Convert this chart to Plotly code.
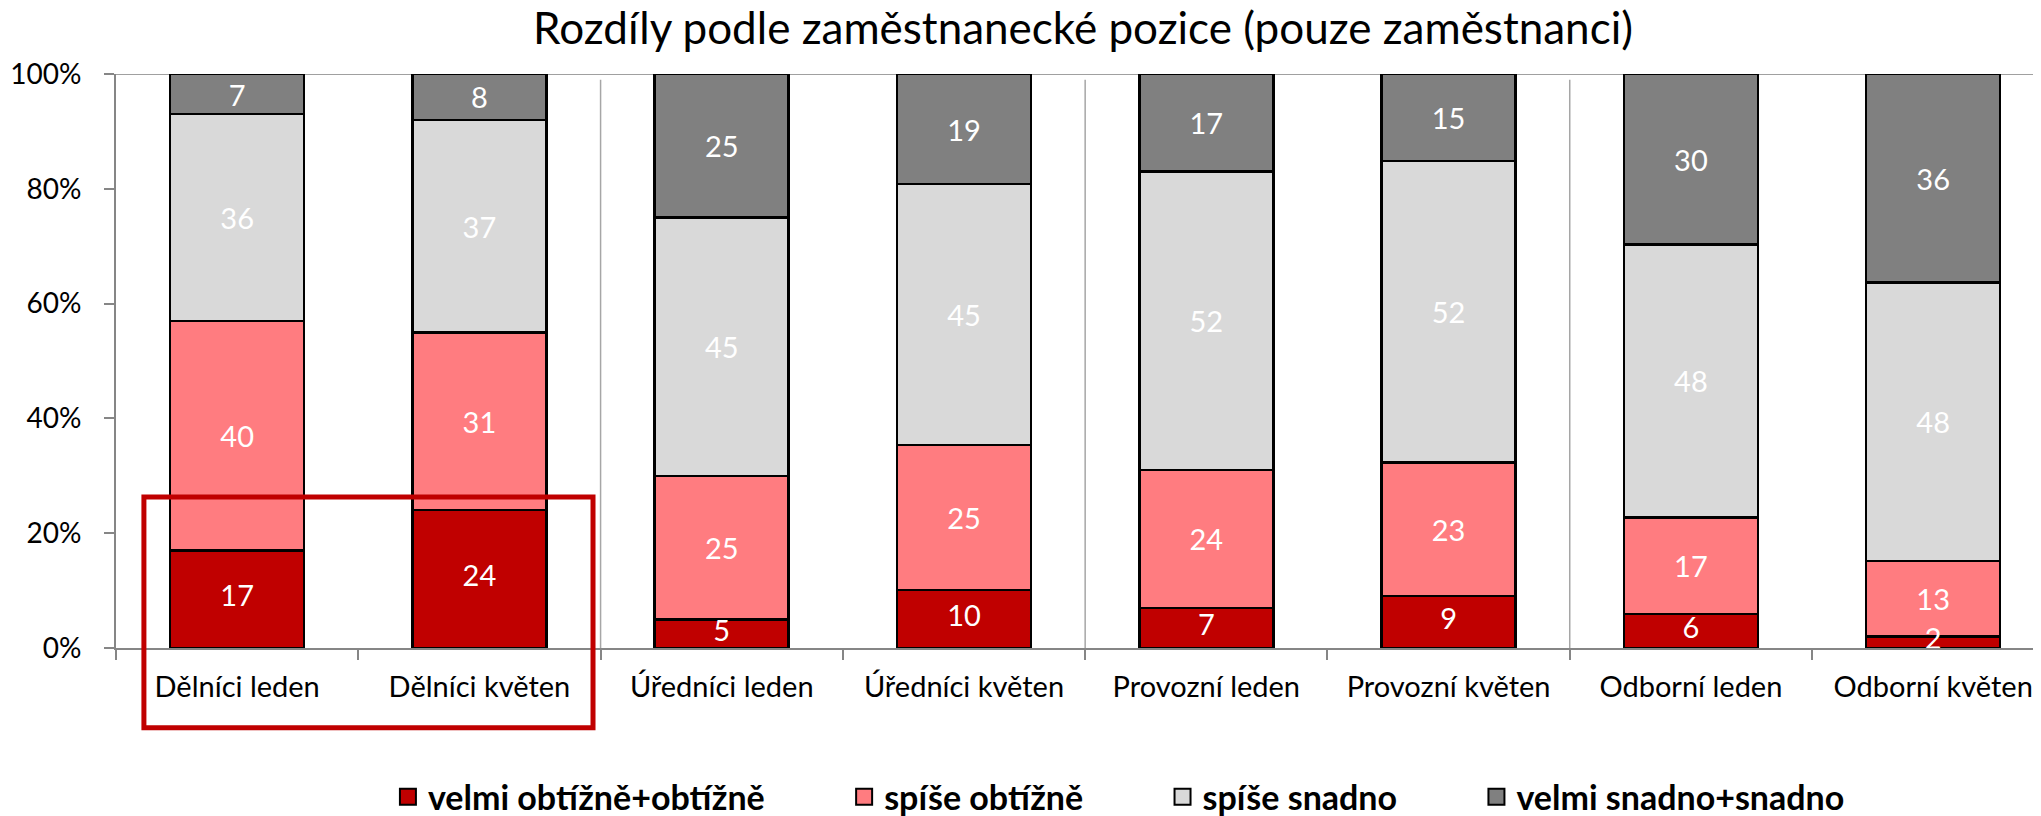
import plotly.graph_objects as go

categories = ["Dělníci leden", "Dělníci květen", "Úředníci leden", "Úředníci květen",
              "Provozní leden", "Provozní květen", "Odborní leden", "Odborní květen"]

velmi_obtizne = [17, 24, 5, 10, 7, 9, 6, 2]
spise_obtizne = [40, 31, 25, 25, 24, 23, 17, 13]
spise_snadno = [36, 37, 45, 45, 52, 52, 48, 48]
velmi_snadno = [7, 8, 25, 19, 17, 15, 30, 36]

y_ticks = [0, 20, 40, 60, 80, 100]
y_labels = ["0%", "20%", "40%", "60%", "80%", "100%"]

series = [
    ("velmi obtížně+obtížně", velmi_obtizne, "#C00000"),
    ("spíše obtížně", spise_obtizne, "#FF7C80"),
    ("spíše snadno", spise_snadno, "#D9D9D9"),
    ("velmi snadno+snadno", velmi_snadno, "#808080"),
]

FONT = "Lato"
NBSP = "\u00a0"

# the page body has an 8px margin, so the figure is drawn 8px smaller
W, H = 2033, 808

fig = go.Figure()

for i, (name, vals, color) in enumerate(series):
    # bottom series gets its labels from a text trace on top (see below)
    labels = vals if i > 0 else [""] * len(vals)
    fig.add_trace(go.Bar(
        x=categories, y=vals, name=name,
        marker=dict(color=color, line=dict(color="black", width=2.5)),
        text=labels, texttemplate="%{text}",
        textposition="inside", insidetextanchor="middle",
        constraintext="none", textangle=0, cliponaxis=False,
        textfont=dict(color="white", size=29, family=FONT),
        showlegend=False,
    ))

# labels of the bottom series drawn on top (so tiny segments still show them)
totals = [sum(s[1][k] for s in series) for k in range(len(categories))]
mid = [velmi_obtizne[k] / 2 / totals[k] * 100 for k in range(len(categories))]
fig.add_trace(go.Scatter(
    x=categories, y=mid, mode="text", text=velmi_obtizne,
    textfont=dict(color="white", size=29, family=FONT),
    showlegend=False, cliponaxis=False, hoverinfo="skip",
))

# legend entries (bigger square symbols than the bar default)
for i, (name, vals, color) in enumerate(series):
    pad = NBSP * 9 if i < len(series) - 1 else ""
    fig.add_trace(go.Scatter(
        x=[None], y=[None], mode="markers", name=name + pad,
        marker=dict(symbol="square", size=16, color=color,
                    line=dict(color="black", width=2)),
    ))

shapes = []
# thin separators between groups
for xb in [1.5, 3.5, 5.5]:
    shapes.append(dict(type="line", xref="x", yref="y", x0=xb, x1=xb, y0=0, y1=99,
                       line=dict(color="#A6A6A6", width=1.5), layer="below"))
# top border line at 100 %
shapes.append(dict(type="line", xref="paper", yref="y", x0=0, x1=1, y0=100, y1=100,
                   line=dict(color="#A0A0A0", width=2), layer="below"))
# red highlight box around the first group
shapes.append(dict(type="rect", xref="paper", yref="paper",
                   x0=0.0145, x1=0.2478, y0=-0.139, y1=0.263,
                   line=dict(color="#C00000", width=5)))

fig.update_layout(
    width=W, height=H,
    barmode="stack", barnorm="percent", bargap=0.447,
    plot_bgcolor="white", paper_bgcolor="white",
    margin=dict(l=108, r=0, t=66, b=168, autoexpand=False),
    font=dict(family=FONT, color="black"),
    title=dict(text="Rozdíly podle zaměstnanecké pozice (pouze zaměstnanci)",
               x=0.5288, xanchor="center", y=0.993, yanchor="top",
               font=dict(size=44, family=FONT, color="black")),
    legend=dict(orientation="h", x=0.521, xanchor="center", y=-0.26, yanchor="middle",
                font=dict(size=34, family=FONT, color="black", weight="bold"),
                itemwidth=30, traceorder="normal"),
    shapes=shapes,
)

fig.update_xaxes(
    range=[-0.5, 7.445], showgrid=False, automargin=False,
    showline=True, linecolor="#868686", linewidth=2,
    ticks="outside", tickson="boundaries", ticklen=10, tickcolor="#868686", tickwidth=1.5,
    tickfont=dict(size=29, family=FONT, color="black"), ticklabelstandoff=12,
)
fig.update_yaxes(
    range=[0, 100.0001], tickvals=y_ticks, ticktext=y_labels,
    showgrid=False, zeroline=False, automargin=False,
    showline=True, linecolor="#868686", linewidth=2,
    ticks="outside", ticklen=10, tickcolor="#868686", tickwidth=1.5,
    tickfont=dict(size=28, family=FONT, color="black"), ticklabelstandoff=17,
)

fig.write_html("out.html")
